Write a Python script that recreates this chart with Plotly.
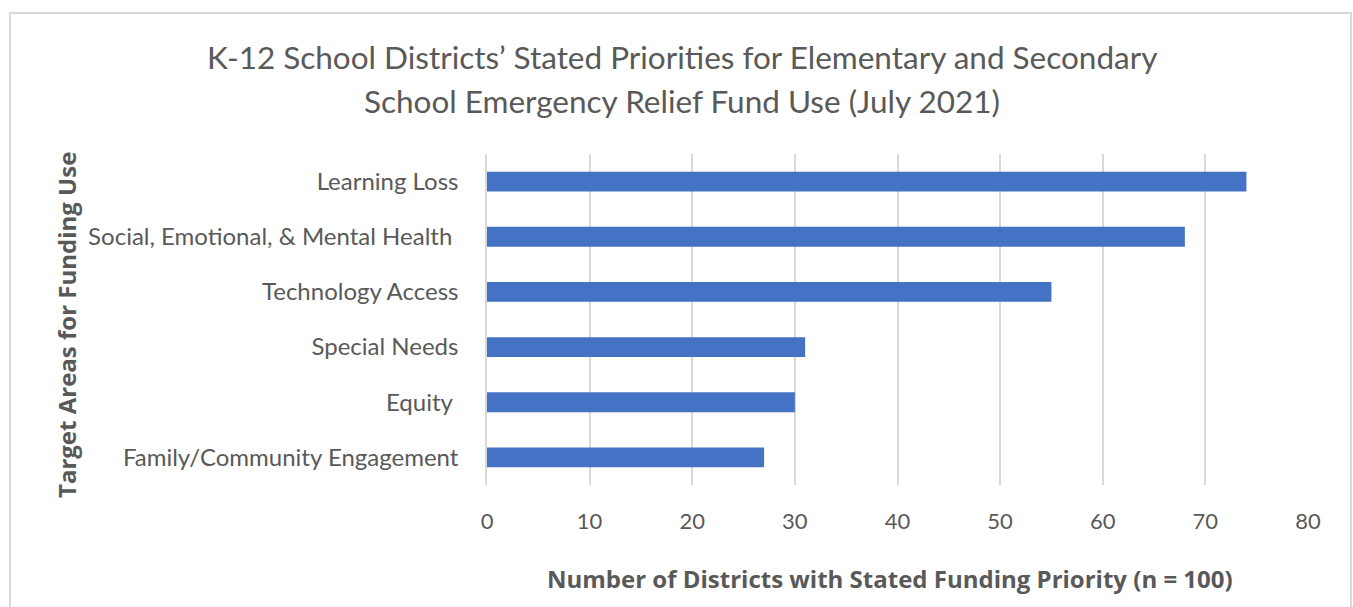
import plotly.graph_objects as go

categories = ["Learning Loss", "Social, Emotional, & Mental Health ", "Technology Access",
              "Special Needs", "Equity ", "Family/Community Engagement"]
values = [74, 68, 55, 31, 30, 27]
x_ticks = [0, 10, 20, 30, 40, 50, 60, 70, 80]
title_lines = ["K-12 School Districts’ Stated Priorities for Elementary and Secondary",
               "School Emergency Relief Fund Use (July 2021)"]
x_title = "Number of Districts with Stated Funding Priority (n = 100)"
y_title = "Target Areas for Funding Use"

W, H = 1353, 607
ml, mr, mt, mb = 487, 45, 154, 122
pw, ph = W - ml - mr, H - mt - mb

FONT = "Lato"
BFONT = "Open Sans"
GRAY = "#595959"


def px(xp):
    return (xp - ml) / pw


def py(yp):
    return (H - mb - yp) / ph


fig = go.Figure(go.Bar(
    x=values, y=categories, orientation="h",
    marker=dict(color="#4472C4", line=dict(width=0)),
    width=0.36,
))

fig.update_layout(
    width=W, height=H,
    margin=dict(l=ml, r=mr, t=mt, b=mb),
    plot_bgcolor="white", paper_bgcolor="white",
    showlegend=False,
    font=dict(family=FONT, color=GRAY, size=22),
    xaxis=dict(
        range=[0, 80], tickvals=x_ticks, showgrid=True, gridcolor="#d9d9d9", gridwidth=1.5,
        zeroline=False, showline=False, ticks="", ticklabelstandoff=21,
        tickfont=dict(size=22, color=GRAY, family=FONT),
    ),
    yaxis=dict(
        categoryorder="array", categoryarray=categories[::-1],
        showgrid=False, zeroline=False, showline=True, linecolor="#d9d9d9", linewidth=1.5,
        ticks="", ticklabelstandoff=22, tickfont=dict(size=24, color=GRAY, family=FONT),
    ),
)

for ypix, line in zip([57, 101], title_lines):
    fig.add_annotation(text=line, xref="paper", yref="paper",
                       x=px(682), y=py(ypix),
                       xanchor="center", yanchor="middle", showarrow=False,
                       font=dict(size=31.5, color=GRAY, family=FONT))

fig.add_annotation(text="<b>" + x_title + "</b>", xref="paper", yref="paper",
                   x=px(890), y=py(578), xanchor="center", yanchor="middle", showarrow=False,
                   font=dict(size=24, color=GRAY, family=BFONT))
fig.add_annotation(text="<b>" + y_title + "</b>", xref="paper", yref="paper",
                   x=px(66), y=py(325), xanchor="center", yanchor="middle", showarrow=False,
                   textangle=-90, font=dict(size=24, color=GRAY, family=BFONT))

# outer chart border
fig.add_shape(type="rect", xref="paper", yref="paper",
              x0=px(10), x1=px(1351), y0=py(H + 20), y1=py(13),
              line=dict(color="#d9d9d9", width=2), fillcolor="rgba(0,0,0,0)", layer="below")

fig.write_html("out.html")
